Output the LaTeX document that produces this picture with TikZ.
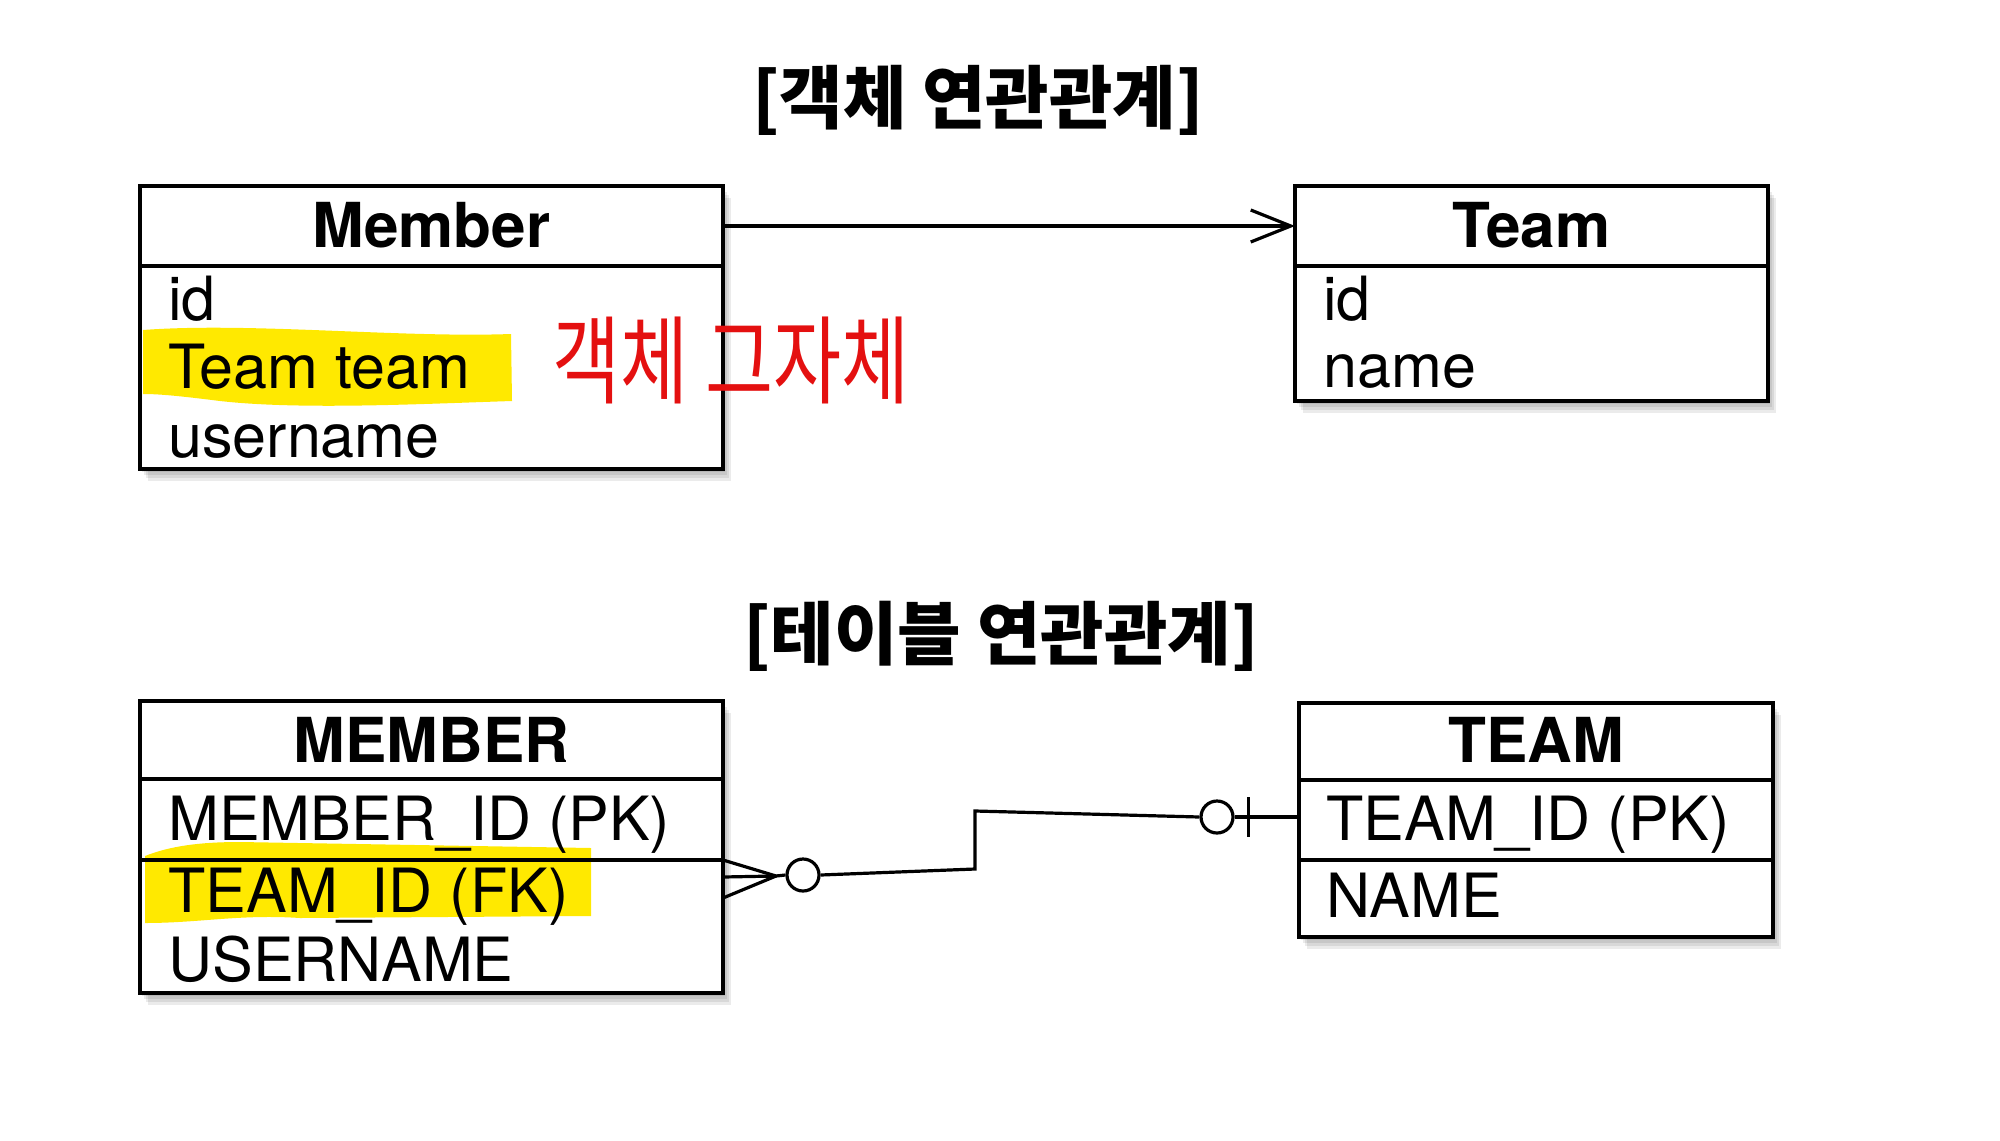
\documentclass[tikz,border=0pt]{standalone}
\usepackage{fontspec}
\setmainfont{TeX Gyre Heros}
\newfontfamily\kr{Noto Sans CJK KR}
\usetikzlibrary{arrows.meta,calc}
\definecolor{hl}{RGB}{255,233,0}
\definecolor{hand}{RGB}{228,16,16}
\tikzset{
  frame/.style={draw=black, line width=2pt, inner sep=0pt, outer sep=0pt, rectangle},
  hdr/.style={font=\fontsize{31}{31}\selectfont\bfseries, anchor=base, inner sep=0pt},
  fld/.style={font=\fontsize{30.5}{31}\selectfont, anchor=base west, inner sep=0pt},
  ttl/.style={font=\kr\bfseries\fontsize{34.5}{34.5}\selectfont, inner sep=0pt},
  note/.style={font=\kr\fontsize{37}{37}\selectfont, text=hand, inner sep=0pt},
  conn/.style={draw=black, line width=1.6pt},
  ring/.style={draw=black, line width=1.6pt, circle, minimum size=16pt, inner sep=0pt, fill=white},
  shad/.style={fill=black, opacity=0.08, draw=none}
}
\begin{document}
\begin{tikzpicture}[x=0.5pt,y=-0.5pt]
\fill[white] (0,0) rectangle (2000,1140);
\useasboundingbox (0,0) rectangle (2000,1140);

% titles
\node[ttl] (title1) at (978,100) {[객체 연관관계]};
\node[ttl] (title2) at (1001,636) {[테이블 연관관계]};

% shadows
\foreach \d in {2,4,6,8}{
  \fill[shad] (140+\d,186+1.5*\d) rectangle (723+\d,469+1.5*\d);
  \fill[shad] (1295+\d,186+1.5*\d) rectangle (1768+\d,401+1.5*\d);
  \fill[shad] (140+\d,701+1.5*\d) rectangle (723+\d,993+1.5*\d);
  \fill[shad] (1299+\d,703+1.5*\d) rectangle (1773+\d,937+1.5*\d);
}
\fill[white] (140,186) rectangle (723,469);
\fill[white] (1295,186) rectangle (1768,401);
\fill[white] (140,701) rectangle (723,993);
\fill[white] (1299,703) rectangle (1773,937);

% highlights
\fill[hl] (143,330) .. controls (250,322) and (400,338) .. (511,334) -- (512,401)
  .. controls (420,404) and (300,410) .. (220,401) .. controls (180,396) and (160,394) .. (143,394) -- cycle;
\fill[hl] (145,856) .. controls (170,846) and (200,842) .. (240,842) -- (591,848) -- (591,916)
  -- (300,918) .. controls (240,914) and (200,923) .. (145,923) -- cycle;

% object boxes
\node[frame, minimum width=291.5pt, minimum height=40pt] (memh) at (431.5,226) {};
\node[frame, minimum width=291.5pt, minimum height=101.5pt] (memb) at (431.5,367.5) {};
\node[frame, minimum width=236.5pt, minimum height=40pt] (teamh) at (1531.5,226) {};
\node[frame, minimum width=236.5pt, minimum height=67.5pt] (teamb) at (1531.5,333.5) {};

\node[hdr] (memt) at (431.5,247) {Member};
\node[fld] (m1) at (168,320) {id};
\node[fld] (m2) at (168,388) {Team team};
\node[fld] (m3) at (168,457) {username};
\node[hdr] (teamt) at (1531.5,247) {Team};
\node[fld] (t1) at (1323,320) {id};
\node[fld] (t2) at (1323,387) {name};

\draw[conn, -{Straight Barb[length=20pt,width=16pt,line width=1.6pt]}] (memh.east) -- (teamh.west);

\node[note] (hand1) at (731,360) {\scalebox{1}[1.3]{객체 그자체}};

% table boxes
\node[frame, minimum width=291.5pt, minimum height=39pt] (MEMh) at (431.5,740) {};
\node[frame, minimum width=291.5pt, minimum height=40.5pt] (MEMr) at (431.5,819.5) {};
\node[frame, minimum width=291.5pt, minimum height=66.5pt] (MEMb) at (431.5,926.5) {};
\node[frame, minimum width=237pt, minimum height=38.5pt] (TEAMh) at (1536,741.5) {};
\node[frame, minimum width=237pt, minimum height=40pt] (TEAMr) at (1536,820) {};
\node[frame, minimum width=237pt, minimum height=38.5pt] (TEAMb) at (1536,898.5) {};

\node[hdr] (MEMt) at (431.5,762) {MEMBER};
\node[fld] (M1) at (168,840) {MEMBER\_ID (PK)};
\node[fld] (M2) at (168,912) {TEAM\_ID (FK)};
\node[fld] (M3) at (168,981) {USERNAME};
\node[hdr] (TEAMt) at (1536,762) {TEAM};
\node[fld] (T1) at (1326,840) {TEAM\_ID (PK)};
\node[fld] (T2) at (1326,917) {NAME};

% ER connector
\coordinate (cf) at (776,876);
\coordinate (cfa) at (MEMr.south east);
\coordinate (cfb) at (723,877);
\coordinate (cfc) at (723,898);
\node[ring] (c1) at (803,875) {};
\node[ring] (c2) at (1217,817) {};
\draw[conn] (cfa) -- (cf);
\draw[conn] (cfb) -- (cf);
\draw[conn] (cfc) -- (cf);
\draw[conn] (cf) -- (c1.west);
\draw[conn, line join=miter] (c1.east) -- (975,869) -- (975,811) -- (c2.west);
\draw[conn] (c2.east) -- (c2.east -| TEAMr.west);
\draw[conn] ($(c2.east)+(14,-20)$) -- ($(c2.east)+(14,20)$);
\end{tikzpicture}
\end{document}
